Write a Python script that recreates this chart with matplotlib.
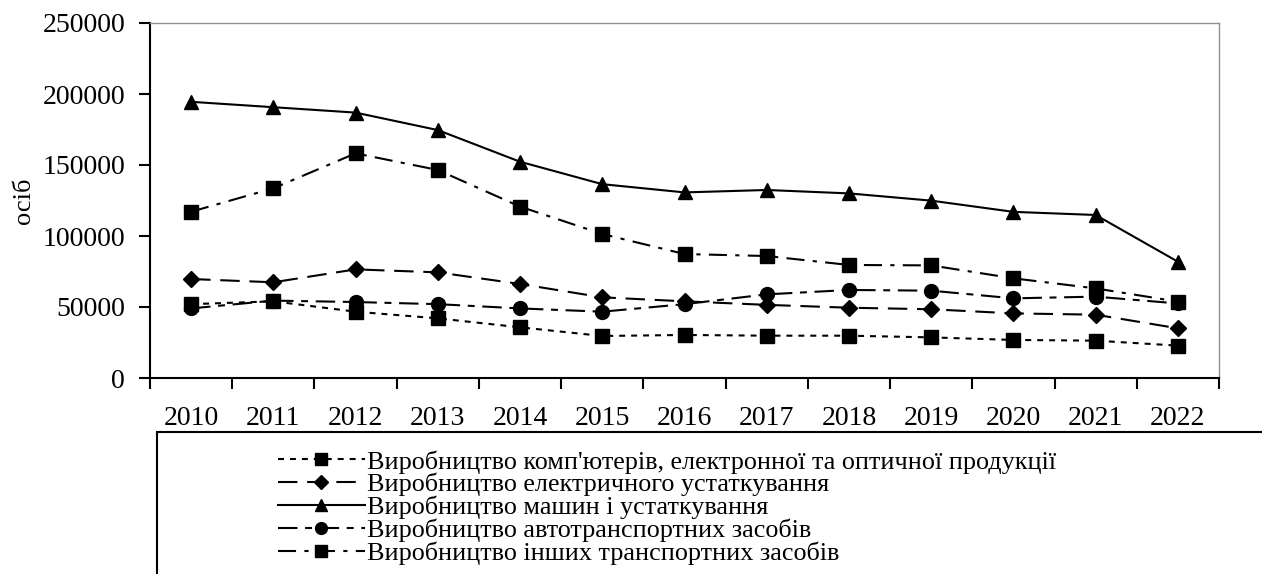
import numpy as np
import matplotlib
matplotlib.use("Agg")
import matplotlib.pyplot as plt
from matplotlib.patches import Rectangle

years = ["2010", "2011", "2012", "2013", "2014", "2015", "2016",
         "2017", "2018", "2019", "2020", "2021", "2022"]

computers = [52000, 54000, 46700, 42000, 35700, 29600, 30300,
             29800, 29800, 28600, 26800, 26300, 22800]
electrical = [69700, 67400, 76500, 74400, 66200, 56800, 54000,
              51500, 49500, 48400, 45500, 44600, 35000]
machines = [194500, 190700, 186900, 174600, 152300, 136500, 130700,
            132400, 130000, 124900, 117000, 114800, 81900]
autos = [49000, 54500, 53500, 52000, 49000, 46700, 52000,
         58900, 62000, 61500, 56100, 57300, 52500]
other_transport = [117100, 133600, 158200, 146500, 120700, 101400, 87300,
                   85900, 79600, 79300, 70200, 63100, 53800]

labels = [
    "Виробництво комп'ютерів, електронної та оптичної продукції",
    "Виробництво електричного устаткування",
    "Виробництво машин і устаткування",
    "Виробництво автотранспортних засобів",
    "Виробництво інших транспортних засобів",
]

plt.rcParams['font.family'] = ['Liberation Serif', 'DejaVu Serif']
plt.rcParams['lines.scale_dashes'] = False

W, H = 1262, 574
fig = plt.figure(figsize=(W / 100, H / 100), dpi=100)
ax = fig.add_axes([150 / W, 1 - 378 / H, (1219 - 150) / W, (378 - 23) / H])

x = np.arange(len(years))
lw = 1.5
series = [
    (computers, 's', 10, (0, (4.3, 4.3))),
    (electrical, 'D', 8.5, (0, (14, 7))),
    (machines, '^', 10.5, '-'),
    (autos, 'o', 10, (0, (14, 5.5, 5, 5.5))),
    (other_transport, 's', 10.5, (0, (13, 6, 3, 6))),
]
handles = []
for (vals, mk, ms, ls), lab in zip(series, labels):
    h, = ax.plot(x, vals, color='black', lw=lw, linestyle=ls, marker=mk,
                 markersize=ms, markerfacecolor='black',
                 markeredgecolor='black', label=lab)
    handles.append(h)

ax.set_xlim(-0.5, len(years) - 0.5)
ax.set_ylim(0, 250000)
ax.set_yticks(np.arange(0, 250001, 50000))
ax.set_xticks(np.arange(-0.5, len(years), 1.0))
ax.set_xticklabels([])
ax.set_xticks(x, minor=True)
ax.set_xticklabels(years, minor=True)
ax.tick_params(axis='x', which='major', direction='out', length=8, width=1.5)
ax.tick_params(axis='x', which='minor', length=0, pad=20, labelsize=20)
ax.tick_params(axis='y', direction='out', length=8, width=1.5, pad=10,
               labelsize=20)
ax.set_ylabel("осіб", fontsize=19, labelpad=5)

for s in ['left', 'bottom']:
    ax.spines[s].set_linewidth(1.5)
    ax.spines[s].set_color('black')
for s in ['top', 'right']:
    ax.spines[s].set_linewidth(1.0)
    ax.spines[s].set_color('#909090')

# legend box
fig.patches.append(Rectangle((157 / W, -0.05), 1.2, (1 - 432 / H) + 0.05,
                             transform=fig.transFigure, fill=False,
                             edgecolor='black', linewidth=1.5))
leg = fig.legend(handles=handles, loc='upper left',
                 bbox_to_anchor=(278 / W, 1 - 450 / H), frameon=False,
                 fontsize=18.8, handlelength=3.33, handletextpad=0.08,
                 labelspacing=-0.025, borderpad=0, borderaxespad=0,
                 markerscale=0.85)

fig.savefig("out.png", dpi=100)
